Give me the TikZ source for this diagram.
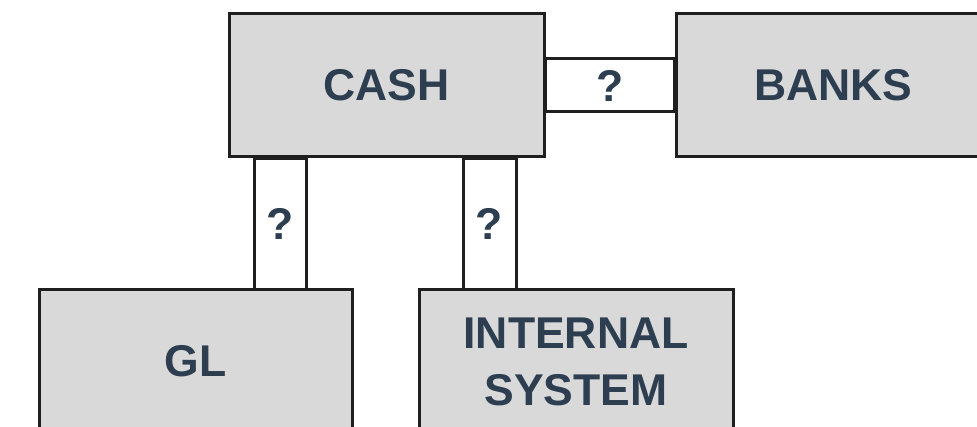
\documentclass[tikz,border=0pt]{standalone}
\usepackage{fontspec}
\setmainfont{Liberation Sans}
\usepackage{tikz}
\usetikzlibrary{calc}
\definecolor{boxgray}{HTML}{D9D9D9}
\definecolor{textslate}{HTML}{2C3E50}
\definecolor{edgeblack}{HTML}{1F1F1F}

\begin{document}
\begin{tikzpicture}[x=1pt, y=-1pt,
    sysbox/.style={draw=edgeblack, line width=3pt, fill=boxgray, text=textslate,
        font=\fontsize{44.5}{57}\selectfont\bfseries, align=center, inner sep=0pt,
        minimum width=315pt, minimum height=143pt},
    link/.style={draw=edgeblack, line width=3pt, fill=white},
    qmark/.style={text=textslate, font=\fontsize{44.5}{50}\selectfont\bfseries, inner sep=0pt}]
            \clip (0,0) rectangle (977,427);
            \fill[white] (0,0) rectangle (977,427);
            % the four systems
            \node[sysbox] (cash) at (386.5,85.5) {CASH};
            \node[sysbox] (banks) at (833.5,85.5) {BANKS};
            \node[sysbox, minimum width=313pt] (gl) at (195.5,361.5) {GL};
            \node[sysbox, minimum width=314pt] (internal) at (576,361.5) {INTERNAL\\SYSTEM};
            % links between them
            \draw[link] ($(cash.east)+(0,-26.5)$) rectangle ($(banks.west)+(0,26.5)$);
            \node[qmark] (qbanks) at ($(cash.east)!0.5!(banks.west)$) {?};
            \coordinate (gltop) at (280,290);
            \coordinate (inttop) at (489.5,290);
            \draw[link] ($(cash.south -| gltop)+(-26,0)$) rectangle ($(gltop)+(26,0)$);
            \node[qmark] (qgl) at ($(cash.south -| gltop)!0.5!(gltop)$) {?};
            \draw[link] ($(cash.south -| inttop)+(-26.5,0)$) rectangle ($(inttop)+(26.5,0)$);
            \node[qmark] (qint) at ($(cash.south -| inttop)!0.5!(inttop)$) {?};
        \end{tikzpicture}
\end{document}
